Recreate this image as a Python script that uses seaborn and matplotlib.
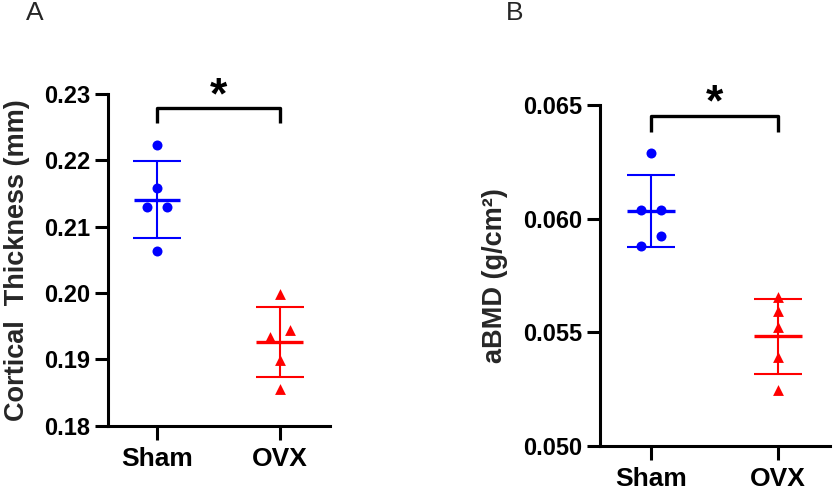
import numpy as np
import pandas as pd
import matplotlib
matplotlib.use("Agg")
import matplotlib.pyplot as plt
from matplotlib.ticker import FormatStrFormatter
import seaborn as sns

sns.set_theme(style="ticks")
plt.rcParams['font.family'] = ['Liberation Sans', 'DejaVu Sans']
plt.rcParams['font.weight'] = 'bold'

# %% Dados
groups = ["Sham", "OVX"]
sham_thickness = [0.2223, 0.2159, 0.2129, 0.2129, 0.2064]
ovx_thickness = [0.1998, 0.1944, 0.1934, 0.1899, 0.1855]
sham_abmd = [0.0629, 0.06037, 0.06037, 0.05923, 0.05879]
ovx_abmd = [0.05654, 0.05593, 0.05524, 0.05389, 0.05246]

colors = {"Sham": "#0000ff", "OVX": "#ff0000"}
markers = {"Sham": "o", "OVX": "^"}
sizes = {"Sham": 7.2, "OVX": 7.8}


def spread(values, px_per_unit, tol_px=12, step=0.08):
    # pontos muito proximos ficam lado a lado, simetricos (estilo Prism)
    vals = np.asarray(values)
    order = np.argsort(vals)
    dx = np.zeros(len(vals))
    cluster = [order[0]]
    for idx in list(order[1:]) + [None]:
        if idx is not None and (vals[idx] - vals[cluster[-1]]) * px_per_unit < tol_px:
            cluster.append(idx)
            continue
        n = len(cluster)
        for k, c in enumerate(cluster):
            dx[c] = (k - (n - 1) / 2) * 2 * step
        if idx is not None:
            cluster = [idx]
    return dx


def panel(ax, sham, ovx, ylim, yticks, fmt, ylabel, bracket, label_x):
    ax.set_xlim(-0.4, 1.41)
    ax.set_ylim(*ylim)
    fig.canvas.draw()
    px_per_unit = ax.get_window_extent().height / (ylim[1] - ylim[0])

    df = pd.DataFrame({"group": ["Sham"] * len(sham) + ["OVX"] * len(ovx),
                       "value": sham + ovx})
    for g in groups:
        sub = df[df.group == g]
        n0 = len(ax.collections)
        sns.stripplot(data=sub, x="group", y="value", order=groups,
                      color=colors[g], marker=markers[g], size=sizes[g],
                      jitter=False, linewidth=0, ax=ax, zorder=3)
        for coll in ax.collections[n0:]:
            off = np.array(coll.get_offsets(), dtype=float)
            if len(off) == len(sub):
                # ordem dos pontos segue a ordem do dataframe
                ys = off[:, 1]
                off[:, 0] += spread(ys, px_per_unit)
                coll.set_offsets(off)

    # media e desvio padrao
    stats = df.groupby("group")["value"].agg(["mean", "std"])
    for i, g in enumerate(groups):
        m, s = stats.loc[g, "mean"], stats.loc[g, "std"]
        ax.errorbar(i, m, yerr=s, fmt="none", ecolor=colors[g],
                    elinewidth=1.5, capsize=17, capthick=1.5, zorder=2)
        ax.hlines(m, i - 0.19, i + 0.19, color=colors[g], lw=2.4, zorder=4)

    # barra de significancia
    top, drop = bracket
    ax.plot([0, 0, 1, 1], [drop, top, top, drop], color="black", lw=2.4,
            clip_on=False, solid_capstyle="butt")
    ax.text(0.5, top, "*", ha="center", va="baseline", fontsize=32,
            fontweight="bold", color="black")

    ax.set_xlim(-0.4, 1.41)
    ax.set_ylim(*ylim)
    ax.set_yticks(yticks)
    ax.yaxis.set_major_formatter(FormatStrFormatter(fmt))
    ax.set_xlabel("")
    ax.set_ylabel(ylabel, fontsize=19.5, fontweight="bold")
    ax.yaxis.set_label_coords(label_x, 0.5)
    sns.despine(ax=ax)
    for sp in ["left", "bottom"]:
        ax.spines[sp].set_linewidth(2.2)
        ax.spines[sp].set_color("black")
    ax.tick_params(axis="y", length=9.5, width=2.2, labelsize=17, pad=3.5,
                   colors="black")
    ax.tick_params(axis="x", length=10, width=2.2, labelsize=19, pad=5,
                   colors="black")
    for t in ax.get_xticklabels() + ax.get_yticklabels():
        t.set_fontweight("bold")


fig = plt.figure(figsize=(8.33, 4.91), dpi=100)
ax1 = fig.add_axes([0.1297, 0.133, 0.2665, 0.6756])
ax2 = fig.add_axes([0.7203, 0.0923, 0.2761, 0.694])

panel(ax1, sham_thickness, ovx_thickness, (0.18, 0.23),
      [0.18, 0.19, 0.20, 0.21, 0.22, 0.23], "%.2f",
      "Cortical  Thickness (mm)", (0.2279, 0.2257), -0.35)
panel(ax2, sham_abmd, ovx_abmd, (0.050, 0.065),
      [0.050, 0.055, 0.060, 0.065], "%.3f",
      "aBMD (g/cm²)", (0.06452, 0.06383), -0.40)

fig.text(35 / 833, 1 - 13 / 491, "A", ha="center", va="center",
         fontsize=19, fontweight="normal")
fig.text(515 / 833, 1 - 13 / 491, "B", ha="center", va="center",
         fontsize=19, fontweight="normal")

fig.savefig("out.png", dpi=100)
